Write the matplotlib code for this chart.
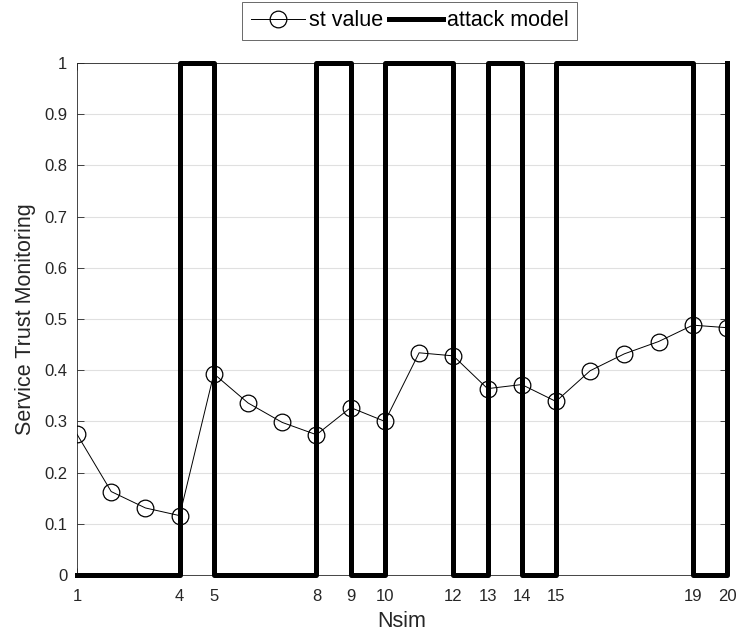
import matplotlib
matplotlib.use("Agg")
import matplotlib.pyplot as plt

plt.rcParams['font.family'] = ['Liberation Sans', 'DejaVu Sans']

# Simulation runs and service trust values
nsim = list(range(1, 21))
st_value = [0.275, 0.163, 0.131, 0.116, 0.393, 0.336, 0.298, 0.274, 0.327, 0.300,
            0.434, 0.428, 0.364, 0.372, 0.339, 0.399, 0.432, 0.456, 0.488, 0.483]

# Attack model: switch points and the state held after each switch
attack_x = [1, 4, 5, 8, 9, 10, 12, 13, 14, 15, 19, 20]
attack_y = [0, 1, 0, 1, 0, 1, 0, 1, 0, 1, 0, 1]

xticks = [1, 4, 5, 8, 9, 10, 12, 13, 14, 15, 19, 20]
yticks = [i / 10 for i in range(11)]

fig = plt.figure(figsize=(7.36, 6.38), dpi=100)
ax = fig.add_axes([0.1046, 0.0987, 0.8832, 0.8026])

axis_col = '#262626'

ax.grid(axis='y', color='#e0e0e0', linewidth=0.8)
ax.set_axisbelow(True)

ax.plot(nsim, st_value, color='black', linewidth=0.7, marker='o', markersize=12,
        markerfacecolor='none', markeredgecolor='black', markeredgewidth=0.9,
        label='st value', zorder=3)
ax.step(attack_x, attack_y, where='post', color='black', linewidth=3.6,
        label='attack model', zorder=4, clip_on=False)

ax.set_xlim(1, 20)
ax.set_ylim(0, 1)
ax.set_xticks(xticks)
ax.set_xticklabels([str(v) for v in xticks])
ax.set_yticks(yticks)
ax.set_yticklabels(['0'] + [f'{v:.1f}' for v in yticks[1:-1]] + ['1'])

ax.tick_params(direction='in', top=True, right=True, length=5, width=0.6,
               colors=axis_col, labelsize=12, labelcolor=axis_col)
ax.tick_params(axis='x', pad=10)
ax.tick_params(axis='y', pad=7)
for s in ax.spines.values():
    s.set_color(axis_col)
    s.set_linewidth(0.6)

ax.set_xlabel('Nsim', fontsize=15.5, color=axis_col, labelpad=5)
ax.set_ylabel('Service Trust Monitoring', fontsize=15.5, color=axis_col, labelpad=6)

leg = ax.legend(loc='lower center', bbox_to_anchor=(0.512, 1.0), ncol=2,
                fontsize=15.5, frameon=True, fancybox=False, edgecolor=axis_col,
                handlelength=2.5, handletextpad=0.2, columnspacing=0.25,
                borderpad=0.4, borderaxespad=1.07)
leg.get_frame().set_linewidth(0.6)

fig.savefig('out.png', dpi=100)
